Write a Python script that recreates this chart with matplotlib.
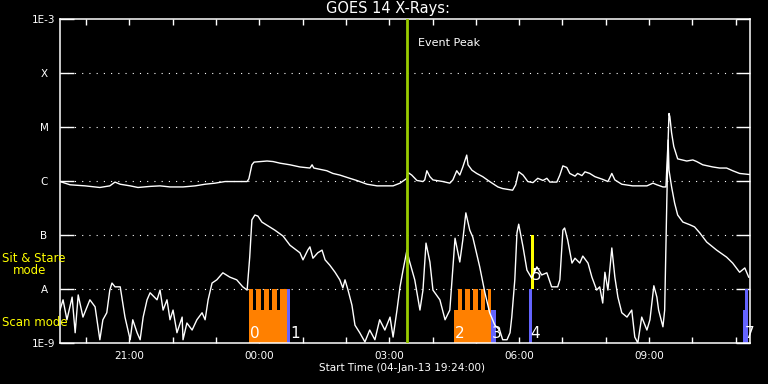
import matplotlib
matplotlib.use('Agg')
import matplotlib.pyplot as plt
import numpy as np
from matplotlib.ticker import FixedLocator, NullLocator

# ---------------- data ----------------
# time in decimal hours (clock, continuing past 24 into 05-Jan)
long_t = [19.40, 19.63, 19.98, 20.32, 20.55, 20.67, 20.79, 21.02, 21.20, 21.48, 21.71, 21.94,
          22.24, 22.52, 22.75, 22.98, 23.21, 23.56, 23.72, 23.76, 23.83, 23.88, 24.18, 24.32,
          24.48, 24.71, 24.94, 25.17, 25.22, 25.26, 25.56, 25.70, 25.86, 26.09, 26.25, 26.49,
          26.72, 27.09, 27.25, 27.41, 27.43, 27.52, 27.64, 27.78, 27.82, 27.87, 27.94, 28.01,
          28.24, 28.40, 28.47, 28.56, 28.63, 28.70, 28.79, 28.82, 28.91, 29.02, 29.16, 29.32,
          29.51, 29.62, 29.85, 29.92, 29.99, 30.09, 30.20, 30.32, 30.43, 30.55, 30.64, 30.71,
          30.87, 30.94, 31.01, 31.10, 31.17, 31.29, 31.35, 31.45, 31.52, 31.63, 31.75, 31.93,
          32.05, 32.14, 32.21, 32.37, 32.62, 32.95, 33.09, 33.18, 33.32, 33.39, 33.41, 33.44,
          33.46, 33.48, 33.52, 33.57, 33.66, 33.87, 34.01, 34.10, 34.24, 34.47, 34.63, 34.79,
          34.93, 35.09, 35.32]
long_logf = [-6.01, -6.07, -6.09, -6.12, -6.09, -6.02, -6.06, -6.09, -6.12, -6.10, -6.09, -6.11,
             -6.11, -6.09, -6.06, -6.04, -6.01, -6.01, -6.01, -5.96, -5.70, -5.65, -5.63, -5.64,
             -5.67, -5.70, -5.74, -5.76, -5.70, -5.76, -5.81, -5.86, -5.89, -5.95, -5.99, -6.06,
             -6.09, -6.09, -6.04, -5.95, -5.84, -5.89, -5.99, -6.01, -5.98, -5.81, -5.92, -5.98,
             -6.01, -6.04, -5.98, -5.81, -5.89, -5.74, -5.52, -5.70, -5.80, -5.86, -5.92, -6.01,
             -6.11, -6.14, -6.17, -6.07, -5.83, -5.89, -6.01, -6.03, -5.95, -5.99, -5.95, -6.02,
             -6.02, -5.89, -5.72, -5.75, -5.86, -5.91, -5.86, -5.90, -5.83, -5.86, -5.92, -5.97,
             -6.01, -5.86, -5.98, -6.06, -6.09, -6.09, -6.04, -6.07, -6.11, -6.11, -5.74, -5.24,
             -4.75, -4.81, -5.11, -5.36, -5.59, -5.63, -5.61, -5.64, -5.70, -5.74, -5.76, -5.76,
             -5.81, -5.86, -5.88]

short_t = [19.40, 19.47, 19.56, 19.68, 19.75, 19.82, 19.93, 20.09, 20.21, 20.32, 20.39, 20.48,
           20.55, 20.60, 20.67, 20.79, 20.90, 21.02, 21.08, 21.18, 21.25, 21.32, 21.41, 21.48,
           21.64, 21.71, 21.78, 21.87, 21.94, 22.01, 22.10, 22.22, 22.24, 22.33, 22.45, 22.56,
           22.68, 22.75, 22.82, 22.91, 23.02, 23.16, 23.32, 23.48, 23.62, 23.72, 23.78, 23.83,
           23.90, 23.97, 24.06, 24.36, 24.55, 24.71, 24.94, 25.01, 25.12, 25.17, 25.24, 25.35,
           25.45, 25.52, 25.63, 25.75, 25.86, 25.93, 25.98, 26.05, 26.14, 26.21, 26.32, 26.44,
           26.55, 26.67, 26.78, 26.90, 27.02, 27.09, 27.18, 27.25, 27.32, 27.41, 27.46, 27.59,
           27.71, 27.78, 27.85, 27.94, 28.01, 28.17, 28.29, 28.40, 28.52, 28.63, 28.70, 28.77,
           28.86, 28.93, 29.09, 29.21, 29.32, 29.44, 29.55, 29.62, 29.72, 29.79, 29.83, 29.90,
           29.95, 29.99, 30.09, 30.18, 30.29, 30.41, 30.52, 30.64, 30.75, 30.89, 30.94, 31.01,
           31.05, 31.12, 31.22, 31.29, 31.40, 31.47, 31.59, 31.68, 31.79, 31.86, 31.93, 31.98,
           32.05, 32.14, 32.21, 32.28, 32.37, 32.49, 32.60, 32.67, 32.74, 32.83, 32.95, 33.02,
           33.11, 33.18, 33.22, 33.32, 33.36, 33.41, 33.44, 33.46, 33.52, 33.59, 33.66, 33.78,
           33.94, 34.05, 34.17, 34.33, 34.56, 34.79, 34.93, 35.09, 35.21, 35.30]
short_logf = [-8.39, -8.20, -8.57, -8.15, -8.81, -8.11, -8.52, -8.20, -8.33, -8.94, -8.57, -8.44,
              -8.02, -7.89, -7.96, -7.96, -8.52, -8.94, -8.57, -8.81, -8.94, -8.52, -8.20, -8.07,
              -8.20, -8.02, -8.39, -8.20, -8.57, -8.39, -8.81, -8.52, -8.94, -8.63, -8.76, -8.57,
              -8.44, -8.57, -8.20, -7.89, -7.83, -7.70, -7.78, -7.83, -7.96, -8.02, -7.41, -6.72,
              -6.63, -6.65, -6.76, -6.91, -7.02, -7.19, -7.33, -7.46, -7.28, -7.22, -7.43, -7.33,
              -7.28, -7.46, -7.56, -7.69, -7.83, -7.98, -7.83, -8.02, -8.30, -8.67, -8.81, -8.98,
              -8.76, -8.94, -8.57, -8.76, -8.52, -8.89, -8.39, -7.96, -7.65, -7.28, -7.46, -7.83,
              -8.39, -8.02, -7.15, -7.50, -8.02, -8.20, -8.57, -8.39, -7.06, -7.50, -7.09, -6.59,
              -6.91, -7.04, -7.59, -8.07, -8.44, -8.67, -8.76, -8.94, -8.94, -8.81, -8.52, -7.83,
              -6.96, -6.80, -7.22, -7.65, -7.80, -7.59, -7.74, -7.70, -7.96, -7.96, -7.83, -6.91,
              -6.87, -7.09, -7.52, -7.43, -7.52, -7.39, -7.52, -7.78, -8.02, -7.96, -8.26, -7.69,
              -8.02, -7.24, -7.78, -8.15, -8.44, -8.52, -8.39, -8.89, -9.00, -8.52, -8.76, -8.57,
              -7.94, -8.15, -8.39, -8.70, -8.39, -6.35, -5.24, -5.80, -6.11, -6.41, -6.63, -6.76,
              -6.81, -6.85, -6.96, -7.13, -7.28, -7.41, -7.52, -7.69, -7.61, -7.78]

# IRIS observation blocks: (start hour, end hour, top flux)
scan_orange = [(23.76, 24.65, 4.1e-9), (23.76, 23.85, 1e-8), (23.92, 24.04, 1e-8),
               (24.11, 24.22, 1e-8), (24.29, 24.41, 1e-8), (24.48, 24.65, 1e-8),
               (28.49, 29.36, 4.1e-9), (28.58, 28.69, 1e-8), (28.75, 28.86, 1e-8),
               (28.94, 29.05, 1e-8), (29.11, 29.22, 1e-8), (29.29, 29.36, 1e-8)]
scan_blue = [(24.65, 24.71, 1e-8), (29.36, 29.46, 4.1e-9), (30.22, 30.29, 1e-8),
             (35.17, 35.22, 4.1e-9), (35.22, 35.28, 1e-8)]
sitstare = [(30.27, 30.34, 1e-8, 1e-7)]
obs_labels = [('0', 23.78, 1.1e-9), ('1', 24.72, 1.1e-9), ('2', 28.52, 1.1e-9),
              ('3', 29.37, 1.1e-9), ('4', 30.25, 1.1e-9), ('5', 30.30, 1.3e-8),
              ('7', 35.21, 1.1e-9)]

event_peak = 27.42
x_major = [21, 24, 27, 30, 33]
x_labels = ['21:00', '00:00', '03:00', '06:00', '09:00']
x_minor = list(range(20, 36))
y_ticks = [1e-9, 1e-8, 1e-7, 1e-6, 1e-5, 1e-4, 1e-3]
y_labels = ['1E-9', 'A', 'B', 'C', 'M', 'X', '1E-3']
grid_levels = [1e-8, 1e-7, 1e-6, 1e-5, 1e-4]

# ---------------- figure ----------------
plt.rcParams['font.family'] = ['DejaVu Sans']
W, H = 768, 384
fig = plt.figure(figsize=(W / 100, H / 100), dpi=100, facecolor='black')
ax = fig.add_axes([60 / W, 1 - 343 / H, 690 / W, 324 / H])
ax.set_facecolor('black')
ax.set_yscale('log')
ax.set_xlim(19.4, 35.33)
ax.set_ylim(1e-9, 1e-3)

orange = '#ff8000'
blue = '#6464ff'
for s, e, top in scan_orange:
    ax.bar(s, top - 1e-9, width=e - s, bottom=1e-9, align='edge', color=orange,
           linewidth=0, zorder=2)
for s, e, top in scan_blue:
    ax.bar(s, top - 1e-9, width=e - s, bottom=1e-9, align='edge', color=blue,
           linewidth=0, zorder=2)
for s, e, b, top in sitstare:
    ax.bar(s, top - b, width=e - s, bottom=b, align='edge', color='#ffff00',
           linewidth=0, zorder=2)

for lv in grid_levels:
    ax.axhline(lv, color='white', lw=0.8, linestyle=(0, (1, 5.5)), zorder=1)

ax.plot(long_t, 10 ** np.array(long_logf), color='white', lw=1.0, zorder=3)
ax.plot(short_t, 10 ** np.array(short_logf), color='white', lw=1.0, zorder=3)

ax.axvline(event_peak, color='#99cc00', lw=2.0, zorder=4)
ax.text(27.66, 10 ** -3.44, 'Event Peak', color='white', fontsize=8, ha='left',
        va='center', zorder=5)

for lab, t, y in obs_labels:
    ax.text(t, y, lab, color='white', fontsize=11, ha='left', va='bottom', zorder=5)

# axes styling
for sp in ax.spines.values():
    sp.set_color('white')
    sp.set_linewidth(1.1)
ax.xaxis.set_major_locator(FixedLocator(x_major))
ax.xaxis.set_minor_locator(FixedLocator(x_minor))
ax.set_xticklabels(x_labels)
ax.yaxis.set_major_locator(FixedLocator(y_ticks))
ax.yaxis.set_minor_locator(NullLocator())
ax.set_yticklabels(y_labels)
ax.tick_params(axis='x', which='both', direction='in', length=4, width=1, color='white',
               top=True, bottom=True, labelcolor='white', labelsize=7.5, pad=6)
ax.tick_params(axis='y', which='major', direction='in', length=10, width=1, color='white',
               left=True, right=True, labelcolor='white', labelsize=7.5, pad=11.5)
for lbl in ax.get_yticklabels():
    lbl.set_ha('center')

fig.text(388 / W, 1 - 9 / H, 'GOES 14 X-Rays:', color='white', fontsize=10.5,
         ha='center', va='center')
fig.text(402 / W, 1 - 368 / H, 'Start Time (04-Jan-13 19:24:00)', color='white',
         fontsize=7.5, ha='center', va='center')
fig.text(2 / W, 1 - 259 / H, 'Sit & Stare', color='#ffff00', fontsize=8.5,
         ha='left', va='center')
fig.text(13 / W, 1 - 271 / H, 'mode', color='#ffff00', fontsize=8.5, ha='left', va='center')
fig.text(2 / W, 1 - 323 / H, 'Scan mode', color='#ffff00', fontsize=8.5,
         ha='left', va='center')

fig.savefig('out.png', dpi=100, facecolor='black')
